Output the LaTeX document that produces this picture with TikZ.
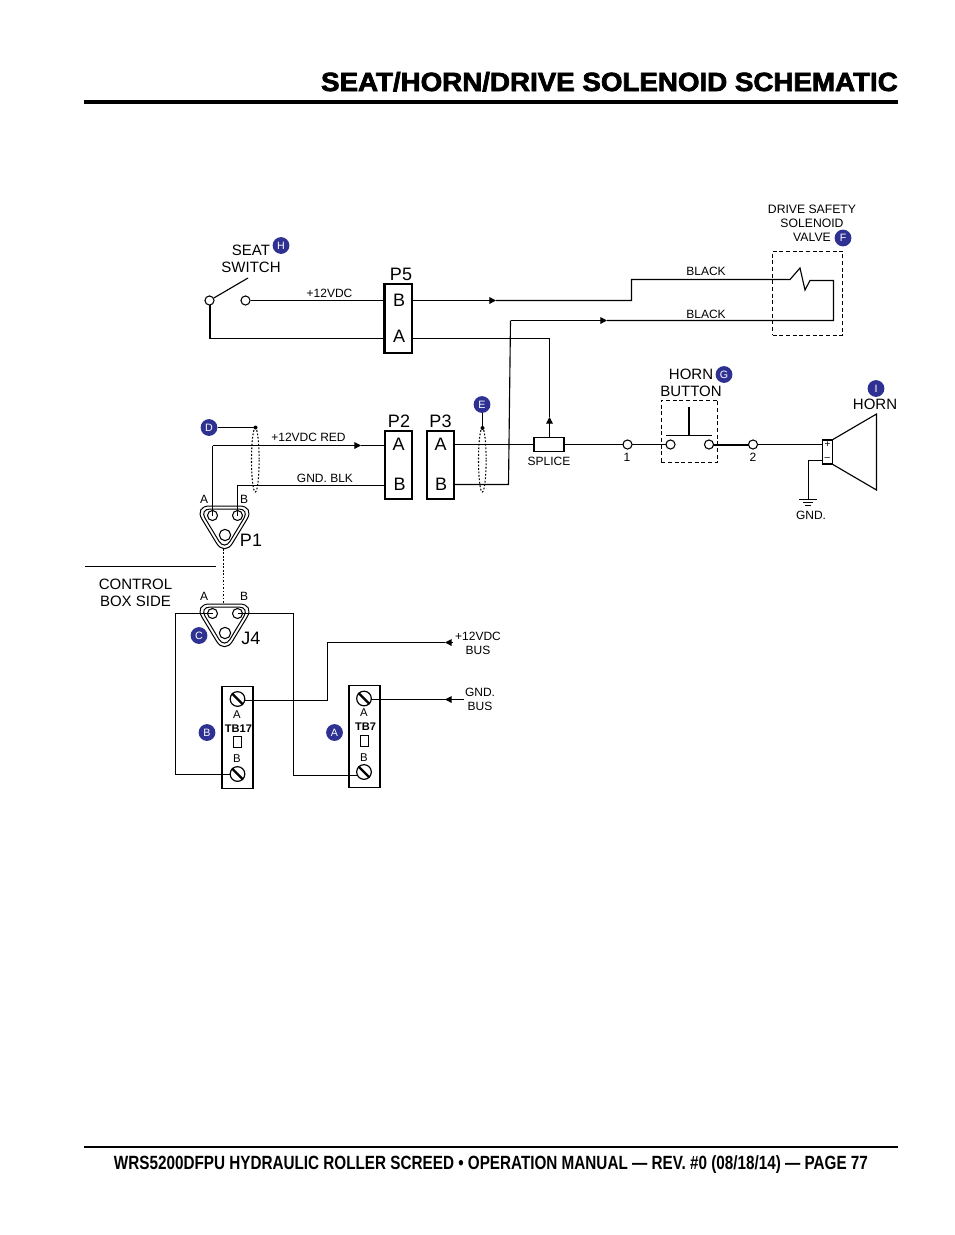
\documentclass[tikz,border=0pt]{standalone}
\usepackage{fontspec}
\usepackage{graphicx}
\setmainfont{Liberation Sans}
\newfontfamily\headfont[FakeBold=2.6]{Liberation Sans Bold}
\usetikzlibrary{arrows.meta}
\tikzset{
  x=.75pt,y=-.75pt,
  wire/.style={line width=.85pt,line join=miter},
  hvy/.style={line width=1.5pt},
  arrowed/.style={wire,-{Triangle[length=5pt,width=5pt]}},
  term/.style={circle,draw,fill=white,line width=.8pt,minimum size=6.8pt,inner sep=0pt},
  conbox/.style={draw,line width=.85pt,fill=white,inner sep=0pt},
  dbox/.style={draw,dashed,line width=.7pt,dash pattern=on 3pt off 2pt,inner sep=0pt},
  txts/.style={inner sep=0pt,align=center,font=\fontsize{9}{10.5}\selectfont},
  txtm/.style={inner sep=0pt,align=center,font=\fontsize{11.25}{12.75}\selectfont},
  txtl/.style={inner sep=0pt,font=\fontsize{13.5}{14}\selectfont},
  bubble/.style={circle,fill=bubbleblue,text=white,minimum size=12.6pt,inner sep=0pt,font=\fontsize{8}{8}\selectfont},
  dotcable/.style={dash pattern=on 1.3pt off 1.3pt,line width=.8pt},
  screw/.style={circle,draw,fill=white,line width=.9pt,minimum size=11pt,inner sep=0pt},
  slash/.style={line width=1.8pt},
}
\definecolor{bubbleblue}{HTML}{2E3192}
\newcommand{\triconn}[2]{%
  \begin{scope}[shift={(0,#2)}]
    \draw[line width=.75pt,rounded corners=11.5pt] (194,506) -- (255,506) -- (224.5,556.4) -- cycle;
    \draw[line width=.75pt,rounded corners=8pt] (199.5,509) -- (249.5,509) -- (224.5,550.4) -- cycle;
    \node[term,minimum size=7.5pt] (#1a) at (212.5,515.5) {};
    \node[term,minimum size=7.5pt] (#1b) at (237.5,515.5) {};
    \node[term,minimum size=8.5pt] (#1c) at (225,535) {};
  \end{scope}}
\begin{document}
\begin{tikzpicture}
\useasboundingbox (0,0) rectangle (954,1235);
\fill[white] (0,0) rectangle (954,1235);

% header and footer
\coordinate (hl) at (84,102); \coordinate (hr) at (898,102);
\draw[line width=3pt] (hl) -- (hr);
\node[inner sep=0pt,anchor=base east] (title) at (898,91) {\resizebox{432.5pt}{14.3pt}{\headfont SEAT/HORN/DRIVE SOLENOID SCHEMATIC}};
\coordinate (fl) at (84,1146.5); \coordinate (fr) at (898,1146.5);
\draw[line width=1.5pt] (fl) -- (fr);
\node[inner sep=0pt,anchor=base] (foot) at (491,1169) {\resizebox{565.5pt}{10.4pt}{\bfseries WRS5200DFPU HYDRAULIC ROLLER SCREED • OPERATION MANUAL — REV. \#0 (08/18/14) — PAGE 77}};

% connector boxes
\node[conbox,minimum width=20.2pt,minimum height=51.7pt] (p5) at (398.5,318.5) {};
\node[conbox,minimum width=20.2pt,minimum height=51pt] (p2) at (398.5,465) {};
\node[conbox,minimum width=20.2pt,minimum height=51pt] (p3) at (440.5,465) {};
\draw[line width=1.5pt] (p5.north west) -- (p5.south west);
\node[txtl] (p5lab) at (401,274) {P5};
\node[txtl] (p2lab) at (399,421) {P2};
\node[txtl] (p3lab) at (440.5,421) {P3};
\node[txtl] (p5B) at (399,300) {B};
\node[txtl] (p5A) at (399,336) {A};
\node[txtl] (p2A) at (398.5,444) {A};
\node[txtl] (p2B) at (399.5,484) {B};
\node[txtl] (p3A) at (440.5,444) {A};
\node[txtl] (p3B) at (441,484) {B};

% anchor points on the boxes
\coordinate (p5bl) at (385,300.5); \coordinate (p5br) at (412,300.5);
\coordinate (p5al) at (385,338.5); \coordinate (p5ar) at (412,338.5);
\coordinate (p2al) at (385,445.5); \coordinate (p2bl) at (385,485.5);
\coordinate (p3ar) at (454,444.5); \coordinate (p3br) at (454,484.5);

% seat switch
\coordinate (levertip) at (248,278);
\coordinate (s1c) at (209.5,338.5);
\draw[hvy] (209.5,300.5) -- (s1c);
\draw[wire] (s1c) -- (p5al);
\node[term] (s1) at (209.5,300.5) {};
\node[term] (s2) at (245.5,300.5) {};
\draw[wire] (s1.30) -- (levertip);
\draw[wire] (s2) -- (p5bl);
\node[txts] (v12) at (329.5,293) {+12VDC};
\node[txtm] (seat) at (251,258.5) {SEAT\\SWITCH};
\node[bubble] (bH) at (281,245.5) {H};

% solenoid valve
\node[dbox,minimum width=52.5pt,minimum height=63pt] (valve) at (807.5,293) {};
\coordinate (ah1) at (496,300.5);
\coordinate (c1) at (631.5,300.5); \coordinate (c2) at (631.5,279.5);
\coordinate (zz0) at (790,279.5); \coordinate (zz1) at (800,268); \coordinate (zz2) at (805,290);
\coordinate (zz3) at (810,280.5); \coordinate (c3) at (833.5,280.5); \coordinate (c4) at (833.5,320.5);
\coordinate (ah2) at (607,320.5); \coordinate (c5) at (510.5,320.5); \coordinate (c6) at (508.5,484.5);
\draw[arrowed] (p5br) -- (ah1);
\draw[wire] (ah1) -- (c1) -- (c2) -- (zz0) -- (zz1) -- (zz2) -- (zz3) -- (c3) -- (c4) -- (ah2);
\draw[arrowed] (c5) -- (ah2);
\draw[wire] (p3br) -- (c6) -- (c5);
\node[txts] (blk1) at (706,271.5) {BLACK};
\node[txts] (blk2) at (706,314.5) {BLACK};
\node[txts,font=\fontsize{9.15}{10.5}\selectfont] (dsv) at (812,223) {DRIVE SAFETY\\SOLENOID\\VALVE};
\node[bubble] (bF) at (843,238) {F};

% splice and horn circuit
\node[conbox,minimum width=22.5pt,minimum height=11pt] (splice) at (549,444.5) {};
\coordinate (sc) at (549.5,338.5);
\coordinate (ah4) at (549.5,417);
\draw[wire] (p5ar) -- (sc) -- (ah4);
\draw[arrowed] (splice.north -| ah4) -- (ah4);
\draw[wire] (p3ar) -- (splice.west);
\node[txts] (splab) at (549,461) {SPLICE};
\draw[wire] (splice.east) -- (670,444.5);
\draw[hvy] (709,444.5) -- (753,444.5);
\node[term] (t1) at (627.5,444.5) {};
\node[term] (b1) at (670.5,444.5) {};
\node[term] (b2) at (709,444.5) {};
\node[term] (t2) at (753,444.5) {};
\node[txts] (t1lab) at (627,457) {1};
\node[txts] (t2lab) at (753,457) {2};
\node[dbox,minimum width=42.5pt,minimum height=46.5pt] (btn) at (689.5,431) {};
\coordinate (barl) at (666,435.5); \coordinate (barr) at (712,435.5);
\coordinate (stem) at (689,407); \coordinate (stemb) at (689,435.5);
\draw[wire] (barl) -- (barr);
\draw[hvy] (stem) -- (stemb);
\node[txtm] (hb) at (691,382.5) {HORN\\BUTTON};
\node[bubble] (bG) at (724,374.5) {G};

% horn
\node[conbox,minimum width=7pt,minimum height=18pt] (hbox) at (827.5,452) {};
\coordinate (spk1) at (832,440); \coordinate (spk2) at (876.5,414); \coordinate (spk3) at (876.5,490); \coordinate (spk4) at (832,464);
\draw[wire] (spk1) -- (spk2) -- (spk3) -- (spk4);
\coordinate (hplus) at (823,444.5); \coordinate (hminus) at (823,460.5);
\draw[wire] (t2) -- (hplus);
\node[inner sep=0pt,font=\fontsize{7.5}{8}\selectfont] (plus) at (827.5,445) {+};
\node[inner sep=0pt,font=\fontsize{7.5}{8}\selectfont] (minus) at (827.5,459.5) {–};
\coordinate (g1) at (808.5,460.5); \coordinate (g2) at (808.5,499.5);
\draw[wire] (hminus) -- (g1) -- (g2);
\coordinate (g1l) at (799,499.5); \coordinate (g1r) at (817,499.5);
\coordinate (g2l) at (803,502.5); \coordinate (g2r) at (813,502.5);
\coordinate (g3l) at (805,505.5); \coordinate (g3r) at (811,505.5);
\draw[wire] (g1l) -- (g1r) (g2l) -- (g2r) (g3l) -- (g3r);
\node[txts] (gndl) at (811,515) {GND.};
\node[txtm] (hornl) at (875,404) {HORN};
\node[bubble] (bI) at (876,388.5) {I};

% P1 connector and its wires
\triconn{pa}{0}
\coordinate (w1) at (212.5,445.5); \coordinate (w2) at (237.5,485.5);
\coordinate (ah3) at (361,445.5);
\draw[wire] (paa.center) -- (w1);
\draw[arrowed] (w1) -- (ah3);
\draw[wire] (ah3) -- (p2al);
\draw[wire] (pab.center) -- (w2) -- (p2bl);
\node[txts] (redl) at (308.5,437.5) {+12VDC RED};
\node[txts] (blkl) at (325,478) {GND. BLK};
\node[txts] (pA) at (204,499) {A};
\node[txts] (pB) at (244,499) {B};
\node[txtl] (p1lab) at (251,540) {P1};

% cable bundles
\coordinate (dd) at (255.5,427.5); \coordinate (ee) at (482.5,428);
\node[bubble] (bD) at (209,427.5) {D};
\node[bubble] (bE) at (482,404.5) {E};
\draw[wire] (bD) -- (dd);
\draw[wire] (bE.south -| ee) -- (ee);
\fill (dd) circle (1.5pt); \fill (ee) circle (1.5pt);
\draw[dotcable] (255.3,460) ellipse [x radius=3.8,y radius=32];
\draw[dotcable] (482.3,460) ellipse [x radius=3.8,y radius=32];

% control box side
\coordinate (cbl) at (85,566.5); \coordinate (cbr) at (216,566.5);
\draw[wire] (cbl) -- (cbr);
\node[txtm] (cbs) at (135.5,592.5) {CONTROL\\BOX SIDE};

% J4
\coordinate (dota) at (223.5,549); \coordinate (dotb) at (223.5,604);
\draw[dash pattern=on 1.3pt off 1.3pt,line width=.75pt] (dota) -- (dotb);
\coordinate (j1) at (175.5,613.5); \coordinate (j2) at (175.5,774.5);
\coordinate (j3) at (293.5,613.5); \coordinate (j4) at (293.5,775.5);
\triconn{ja}{98}
\draw[wire] (jaa.center) -- (j1) -- (j2);
\draw[wire] (jab.center) -- (j3) -- (j4);
\node[txts] (jA) at (204,596) {A};
\node[txts] (jB) at (244,596) {B};
\node[txtl] (j4lab) at (251,638) {J4};
\node[bubble] (bC) at (199,635.5) {C};

% TB17
\coordinate (u1) at (327.5,700.5); \coordinate (u2) at (327.5,642.5);
\coordinate (u4) at (445,642.5);
\node[conbox,minimum width=23.2pt,minimum height=76pt] (tb17) at (237.5,737.5) {};
\draw[wire] (j2) -- (j2 -| tb17.center);
\draw[wire] (u1 -| tb17.center) -- (u1) -- (u2) -- (u4);
\node[screw] (t17a) at (237.5,699) {};
\node[screw] (t17b) at (237.5,774) {};
\draw[slash] (t17a.135) -- (t17a.-45);
\draw[slash] (t17b.135) -- (t17b.-45);
\node[txts,font=\fontsize{8.5}{9}\selectfont] (t17A) at (237,714.5) {A};
\node[txts,font=\fontsize{8.5}{9}\selectfont] (t17B) at (237,759) {B};
\node[inner sep=0pt,font=\bfseries\fontsize{8.3}{9}\selectfont] (t17n) at (238.5,729) {TB17};
\node[draw,line width=.6pt,minimum width=5.5pt,minimum height=8pt,inner sep=0pt] (t17r) at (237.5,742) {};

% TB7
\coordinate (g5) at (445,699.5); \coordinate (g6) at (464,699.5);
\node[conbox,minimum width=23.2pt,minimum height=76pt] (tb7) at (364.5,736.5) {};
\draw[wire] (j4) -- (j4 -| tb7.center);
\draw[wire,line width=1pt] (g6 -| tb7.center) -- (g6);
\node[screw] (t7a) at (364,698.5) {};
\node[screw] (t7b) at (364,772) {};
\draw[slash] (t7a.135) -- (t7a.-45);
\draw[slash] (t7b.135) -- (t7b.-45);
\node[txts,font=\fontsize{8.5}{9}\selectfont] (t7A) at (364,713) {A};
\node[txts,font=\fontsize{8.5}{9}\selectfont] (t7B) at (364,758) {B};
\node[inner sep=0pt,font=\bfseries\fontsize{8.3}{9}\selectfont] (t7n) at (365.5,727) {TB7};
\node[draw,line width=.6pt,minimum width=5.5pt,minimum height=8pt,inner sep=0pt] (t7r) at (364.5,741) {};

% bus wire arrowheads
\draw[arrowed] (453,642.5) -- (u4);
\draw[arrowed] (453,699.5) -- (g5);
\node[txts] (b12) at (478,643.5) {+12VDC\\BUS};
\node[txts] (gbus) at (480,699) {GND.\\BUS};
\node[bubble] (bB) at (207,732.5) {B};
\node[bubble] (bA) at (334.5,732.5) {A};
\end{tikzpicture}
\end{document}
